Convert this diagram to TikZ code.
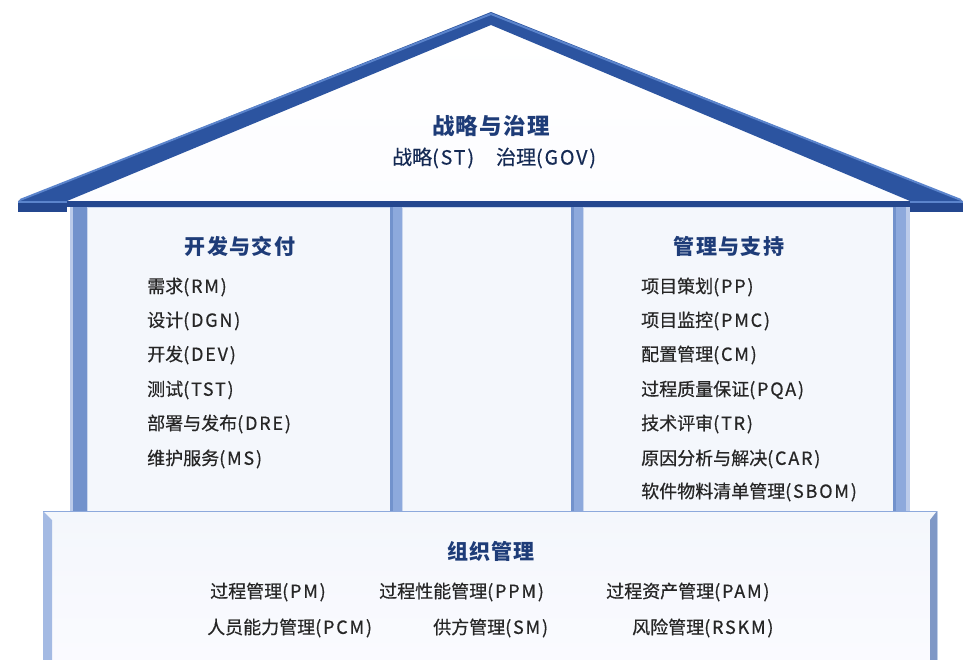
\documentclass[tikz,border=0pt]{standalone}
\usepackage{fontspec}
\newfontfamily\cjk[FakeBold=0.5]{Noto Sans CJK SC}
\newfontfamily\lat[FakeBold=0.5,LetterSpace=10]{Noto Sans CJK SC}
\newfontfamily\cjkt[LetterSpace=6]{Noto Sans CJK SC}
\definecolor{roofblue}{HTML}{2C54A0}
\definecolor{roofhi}{HTML}{5B84CC}
\definecolor{beam}{HTML}{24478F}
\definecolor{pillar}{HTML}{8DA9DC}
\definecolor{pillardk}{HTML}{7292CC}
\definecolor{panel}{HTML}{F4F7FC}
\definecolor{panelline}{HTML}{CAD7EE}
\definecolor{titleblue}{HTML}{1E3C78}
\definecolor{itemcol}{HTML}{262626}
\newcommand\itm[2]{{\cjk\fontsize{18}{22}\selectfont #1}{\lat\fontsize{18}{22}\selectfont(#2)}}
\newcommand\subitm[2]{{\cjk\fontsize{20}{24}\selectfont #1}{\lat\fontsize{19.5}{24}\selectfont(#2)}}
\tikzset{
  titletext/.style={font=\cjkt\bfseries\fontsize{21}{26}\selectfont, text=titleblue, inner sep=0pt},
  bigtitle/.style={font=\cjkt\bfseries\fontsize{22.5}{27}\selectfont, text=titleblue, inner sep=0pt},
  itemtext/.style={text=itemcol, inner sep=0pt, anchor=west},
  subtext/.style={text=titleblue!70!black, inner sep=0pt},
  panelbox/.style={fill=panel, draw=panelline, line width=0.6pt},
}
\begin{document}
\begin{tikzpicture}[x=1pt,y=-1pt]
\useasboundingbox (0,0) rectangle (980,660);
\fill[white] (0,0) rectangle (980,660);
% panels
\path[panelbox] (87,207) rectangle (390,511);
\path[panelbox] (402,207) rectangle (571,511);
\path[panelbox] (583,207) rectangle (893,511);
% pillars
\fill[pillar] (70,207) rectangle (87,511);
\fill[pillardk] (73,207) rectangle (87,511);
\fill[pillar!60!white] (70,207) rectangle (73,511);
\fill[pillar] (390,207) rectangle (402,511);
\fill[pillardk] (390,207) rectangle (393,511);
\fill[pillar] (571,207) rectangle (583,511);
\fill[pillardk] (571,207) rectangle (574,511);
\fill[pillar] (893,207) rectangle (910,511);
\fill[pillardk] (893,207) rectangle (896,511);
\fill[pillar!60!white] (906,207) rectangle (910,511);
% gable
\shade[top color=white, bottom color=panel!90!blue!8] (67,201) -- (491,25) -- (910,201) -- cycle;
% roof band
\fill[roofblue] (18,201) -- (491,12) -- (963,201) -- (910,201) -- (491,25) -- (67,201) -- cycle;
\draw[roofhi, line width=2pt] (20,200) -- (491,14) -- (961,200);
\fill[beam] (18,201) rectangle (67,212);
\fill[beam] (910,201) rectangle (963,212);
\fill[beam] (67,201) rectangle (910,207);
\fill[roofhi] (18,201) rectangle (67,203);
\fill[roofhi] (910,201) rectangle (963,203);
% base
\shade[top color=panel, bottom color=panel!85!blue!10, draw=panelline] (43,511) rectangle (937,660);
\fill[pillar!80!white] (43,511) -- (52,520) -- (52,660) -- (43,660) -- cycle;
\fill[pillar!90!black] (937,511) -- (930,520) -- (930,660) -- (937,660) -- cycle;
\draw[pillar, line width=0.8pt] (43,511) -- (937,511);
% roof texts
\node[bigtitle] (st) at (491,126) {战略与治理};
\node[subtext, anchor=west] (stsub) at (392,158) {\subitm{战略}{ST}\hspace{22pt}\subitm{治理}{GOV}};
% left panel
\node[titletext] (dev) at (240,246) {开发与交付};
\node[itemtext] (rm) at (147,287) {\itm{需求}{RM}};
\node[itemtext] (dgn) at (147,321) {\itm{设计}{DGN}};
\node[itemtext] (devi) at (147,355) {\itm{开发}{DEV}};
\node[itemtext] (tst) at (147,390) {\itm{测试}{TST}};
\node[itemtext] (dre) at (147,424) {\itm{部署与发布}{DRE}};
\node[itemtext] (ms) at (147,459) {\itm{维护服务}{MS}};
% right panel
\node[titletext] (mgt) at (729,246) {管理与支持};
\node[itemtext] (pp) at (641,287) {\itm{项目策划}{PP}};
\node[itemtext] (pmc) at (641,321) {\itm{项目监控}{PMC}};
\node[itemtext] (cm) at (641,355) {\itm{配置管理}{CM}};
\node[itemtext] (pqa) at (641,390) {\itm{过程质量保证}{PQA}};
\node[itemtext] (tr) at (641,424) {\itm{技术评审}{TR}};
\node[itemtext] (car) at (641,459) {\itm{原因分析与解决}{CAR}};
\node[itemtext] (sbom) at (641,492) {\itm{软件物料清单管理}{SBOM}};
% base texts
\node[titletext] (org) at (491,551) {组织管理};
\node[itemtext] (pm) at (210,592) {\itm{过程管理}{PM}};
\node[itemtext] (ppm) at (379,592) {\itm{过程性能管理}{PPM}};
\node[itemtext] (pam) at (606,592) {\itm{过程资产管理}{PAM}};
\node[itemtext] (pcm) at (207,628) {\itm{人员能力管理}{PCM}};
\node[itemtext] (sm) at (433,628) {\itm{供方管理}{SM}};
\node[itemtext] (rskm) at (632,628) {\itm{风险管理}{RSKM}};
\end{tikzpicture}
\end{document}
